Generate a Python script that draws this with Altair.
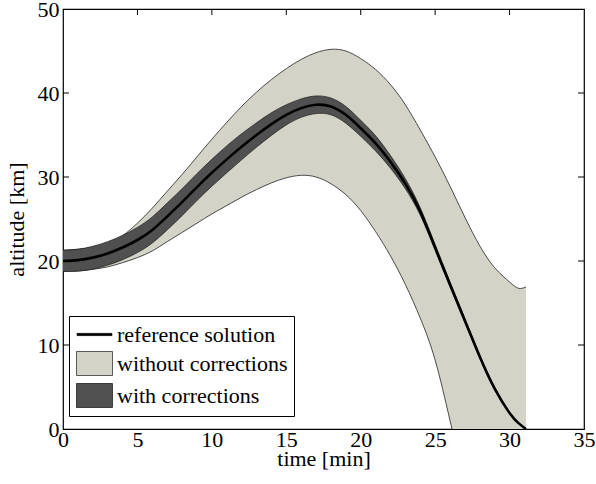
import altair as alt
import pandas as pd

# ---- data ----
time_min = [0, 1, 2, 3, 4, 5, 6, 7, 8, 9, 10, 11, 12, 13, 14, 15, 16, 17, 18, 19,
            20, 21, 22, 23, 24, 25, 26, 27, 28, 29, 30, 30.6, 31.1]
reference = [20.0, 20.1, 20.4, 20.9, 21.6, 22.5, 23.7, 25.3, 27.0, 28.8, 30.5, 32.1,
             33.6, 35.0, 36.3, 37.4, 38.2, 38.6, 38.4, 37.4, 35.8, 34.0, 31.8, 29.2,
             25.9, 21.6, 17.2, 12.9, 8.6, 4.8, 1.9, 0.7, 0.0]
without_upper = [21.3, 21.4, 21.6, 22.0, 23.0, 24.5, 26.3, 28.3, 30.3, 32.4, 34.5, 36.5,
                 38.4, 40.1, 41.6, 42.9, 44.0, 44.8, 45.2, 45.0, 44.1, 42.8, 41.0, 38.6,
                 35.6, 32.4, 28.9, 25.2, 21.8, 19.2, 17.5, 16.75, 16.9]
without_lower = [18.8, 18.8, 19.0, 19.3, 19.8, 20.4, 21.2, 22.3, 23.4, 24.5, 25.6, 26.6,
                 27.6, 28.5, 29.3, 29.9, 30.2, 30.0, 29.2, 27.9, 26.0, 23.5, 20.6, 17.2,
                 13.2, 8.2, 1.0, -6.5, -14.0, -21.0, -27.0, -30.0, -32.0]
with_upper = [21.25, 21.4, 21.75, 22.3, 23.05, 24.0, 25.25, 26.9, 28.6, 30.4, 32.1, 33.7,
              35.15, 36.45, 37.65, 38.6, 39.3, 39.65, 39.4, 38.4, 36.75, 34.9, 32.55, 29.8,
              26.35, 21.95, 17.5, 13.15, 8.8, 4.95, 2.0, 0.75, 0.0]
with_lower = [18.75, 18.8, 19.05, 19.5, 20.15, 21.0, 22.15, 23.7, 25.4, 27.2, 28.9, 30.5,
              32.05, 33.55, 34.95, 36.2, 37.1, 37.55, 37.4, 36.4, 34.85, 33.1, 31.05, 28.6,
              25.45, 21.25, 16.9, 12.65, 8.4, 4.65, 1.8, 0.65, 0.0]

series_names = ["reference solution", "without corrections", "with corrections"]
series_fill = ["#000000", "#d4d3c8", "#505050"]
series_edge = ["#000000", "#333333", "#222222"]
x_ticks = [0, 5, 10, 15, 20, 25, 30, 35]
y_ticks = [0, 10, 20, 30, 40, 50]
inner_x_ticks = [5, 10, 15, 20, 25, 30]
inner_y_ticks = [10, 20, 30, 40]

W, H = 521, 420
FONT = "Liberation Serif"
FS = 22

df = pd.DataFrame({"t": time_min, "ref": reference, "wu": without_upper,
                   "wl": without_lower, "cu": with_upper, "cl": with_lower})

xs = alt.Scale(domain=[0, 35], nice=False, zero=False)
ys = alt.Scale(domain=[0, 50], nice=False, zero=False)

x_axis = alt.Axis(values=x_ticks, format="d", grid=False, ticks=False, domain=False,
                  labelFont=FONT, labelFontSize=FS, labelColor="black", labelPadding=0,
                  labelFlush=False, title="time [min]", titleFont=FONT, titleFontSize=FS,
                  titleFontWeight="normal", titleColor="black", titleY=19)
y_axis = alt.Axis(values=y_ticks, format="d", grid=False, ticks=False, domain=False,
                  labelFont=FONT, labelFontSize=FS, labelColor="black", labelPadding=4,
                  labelFlush=False, title="altitude [km]", titleFont=FONT,
                  titleFontSize=FS, titleFontWeight="normal", titleColor="black",
                  titlePadding=9)

base = alt.Chart(df)
INTERP = "natural"

light = base.mark_area(color="#d4d3c8", interpolate=INTERP, clip=True).encode(
    x=alt.X("t:Q", scale=xs, axis=x_axis),
    y=alt.Y("wl:Q", scale=ys, axis=y_axis),
    y2="wu:Q",
)
light_up = base.mark_line(color="#222222", strokeWidth=0.8, interpolate=INTERP,
                          clip=True).encode(
    x=alt.X("t:Q", scale=xs), y=alt.Y("wu:Q", scale=ys))
light_lo = base.mark_line(color="#222222", strokeWidth=0.8, interpolate=INTERP,
                          clip=True).encode(
    x=alt.X("t:Q", scale=xs), y=alt.Y("wl:Q", scale=ys))

dark = base.mark_area(color="#505050", interpolate=INTERP, clip=True).encode(
    x=alt.X("t:Q", scale=xs), y=alt.Y("cl:Q", scale=ys), y2="cu:Q")
dark_up = base.mark_line(color="#1a1a1a", strokeWidth=0.7, interpolate=INTERP,
                         clip=True).encode(
    x=alt.X("t:Q", scale=xs), y=alt.Y("cu:Q", scale=ys))
dark_lo = base.mark_line(color="#1a1a1a", strokeWidth=0.7, interpolate=INTERP,
                         clip=True).encode(
    x=alt.X("t:Q", scale=xs), y=alt.Y("cl:Q", scale=ys))

ref_line = base.mark_line(color="black", strokeWidth=2.6, interpolate=INTERP,
                          clip=True).encode(
    x=alt.X("t:Q", scale=xs), y=alt.Y("ref:Q", scale=ys))

# inward ticks (top, left, right)
tx = pd.DataFrame({"v": inner_x_ticks})
ty = pd.DataFrame({"v": inner_y_ticks})
top_ticks = alt.Chart(tx).mark_rule(color="black", strokeWidth=1).encode(
    x=alt.X("v:Q", scale=xs), y=alt.value(0), y2=alt.value(6))
left_ticks = alt.Chart(ty).mark_rule(color="black", strokeWidth=1).encode(
    y=alt.Y("v:Q", scale=ys), x=alt.value(0), x2=alt.value(6))
right_ticks = alt.Chart(ty).mark_rule(color="black", strokeWidth=1).encode(
    y=alt.Y("v:Q", scale=ys), x=alt.value(W - 6), x2=alt.value(W))

# legend: empty point layer carrying the series scale
leg_df = pd.DataFrame({"series": pd.Series([], dtype="str")})
line_path = "M-1.45,-0.09H1.45V0.09H-1.45Z"
rect_path = "M-1.5,-1H1.5V1H-1.5Z"


def make_legend():
    return alt.Legend(title=None, orient="none", legendX=6, legendY=307,
                      padding=6, labelOffset=10, rowPadding=3, symbolOffset=7,
                      symbolSize=576, symbolStrokeWidth=0.8, symbolOpacity=1,
                      labelFont=FONT, labelFontSize=FS, labelColor="black",
                      labelLimit=0, strokeColor="black", fillColor="white")


legend_layer = alt.Chart(leg_df).mark_point(
    filled=True, opacity=1, strokeWidth=0.8).encode(
    fill=alt.Fill("series:N", scale=alt.Scale(domain=series_names, range=series_fill),
                  legend=make_legend()),
    stroke=alt.Stroke("series:N", scale=alt.Scale(domain=series_names, range=series_edge),
                      legend=make_legend()),
    shape=alt.Shape("series:N", scale=alt.Scale(domain=series_names,
                                                range=[line_path, rect_path, rect_path]),
                    legend=make_legend()),
)

chart = alt.layer(light, light_up, light_lo, dark, dark_up, dark_lo, ref_line,
                  top_ticks, left_ticks, right_ticks, legend_layer).properties(
    width=W, height=H,
    autosize=alt.AutoSizeParams(type="none"),
    padding={"left": 63, "top": 9, "right": 12, "bottom": 55},
    background="white",
).configure_view(stroke="black", strokeWidth=1.2)

chart.save("out.html", embed_options={"renderer": "svg", "actions": False})
